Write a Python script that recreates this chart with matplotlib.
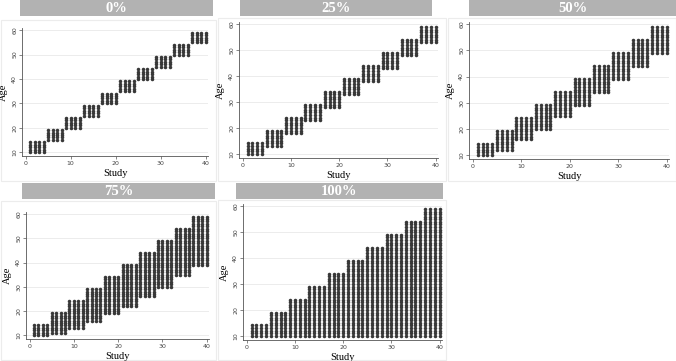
import numpy as np
import matplotlib
matplotlib.use("Agg")
import matplotlib.pyplot as plt
from matplotlib.patches import Rectangle

W, H = 676, 361

# overlap levels and per-group age ranges (10 groups of 4 studies each)
panel_titles = ["0%", "25%", "50%", "75%", "100%"]
studies_per_group = 4
age_upper = [14, 19, 24, 29, 34, 39, 44, 49, 54, 59]
age_lower_0 = [10, 15, 20, 25, 30, 35, 40, 45, 50, 55]
age_lower_25 = [10, 13, 18, 23, 28, 33, 38, 43, 48, 53]
age_lower_50 = [10, 12, 16, 20, 25, 29, 34, 39, 44, 49]
age_lower_75 = [10, 11, 13, 16, 19, 22, 26, 30, 35, 39]
age_lower_100 = [10, 10, 10, 10, 10, 10, 10, 10, 10, 10]
lowers = [age_lower_0, age_lower_25, age_lower_50, age_lower_75, age_lower_100]

x_ticks = [0, 10, 20, 30, 40]
y_ticks = [10, 20, 30, 40, 50, 60]

# layout in pixels: axes box (left, top, right, bottom), title bar (left, top, right, bottom),
# outer panel frame (left, top, right, bottom)
axes_px = [
    (22, 28, 208, 156),
    (239, 22, 438, 158),
    (469, 22, 669, 159),
    (26, 212, 209, 339),
    (243, 204, 442, 340),
]
title_px = [
    (20, 0, 213, 16),
    (240, 0, 432, 16),
    (469, 0, 676, 16),
    (22, 183, 215, 199),
    (236, 183, 443, 199),
]
frame_px = [
    (1, 20, 216, 181),
    (218, 18, 446, 181),
    (448, 18, 676, 181),
    (1, 201, 216, 360),
    (218, 200, 446, 360),
]


def fig_rect(box):
    l, t, r, b = box
    return [l / W, 1 - b / H, (r - l) / W, (b - t) / H]


def make_points(lower):
    xs, ys = [], []
    for g, (lo, hi) in enumerate(zip(lower, age_upper)):
        for s in range(studies_per_group):
            study = g * studies_per_group + s + 1
            ages = np.arange(lo, hi + 1)
            xs.extend([study] * len(ages))
            ys.extend(ages)
    return np.array(xs), np.array(ys)


fig = plt.figure(figsize=(W / 100, H / 100), dpi=100)
fig.patch.set_facecolor("white")

for i, title in enumerate(panel_titles):
    # faint outer frame of each sub graph
    x0, y0, w, h = fig_rect(frame_px[i])
    fig.patches.append(Rectangle((x0, y0), w, h, transform=fig.transFigure,
                                 facecolor="white", edgecolor="#ececec", lw=0.8, zorder=-2))

    # grey title bar
    x0, y0, w, h = fig_rect(title_px[i])
    fig.patches.append(Rectangle((x0, y0), w, h, transform=fig.transFigure,
                                 facecolor="#b2b2b2", edgecolor="none", zorder=-1))
    fig.text(x0 + w / 2, y0 + h / 2 - 0.002, title, ha="center", va="center",
             color="white", fontsize=10.5, fontweight="bold", family="Liberation Serif")

    ax = fig.add_axes(fig_rect(axes_px[i]))
    ax.set_zorder(2)
    ax.set_facecolor("white")
    xs, ys = make_points(lowers[i])
    ax.scatter(xs, ys, s=6.5, color="#383838", linewidths=0, zorder=3)

    ax.set_xlim(-0.8, 40.5)
    ax.set_ylim(8.4, 60.9)
    ax.set_xticks(x_ticks)
    ax.set_yticks(y_ticks)
    ax.grid(axis="y", color="#ececec", lw=0.7)
    ax.set_axisbelow(True)
    for side in ["top", "right"]:
        ax.spines[side].set_visible(False)
    for side in ["left", "bottom"]:
        ax.spines[side].set_color("#555555")
        ax.spines[side].set_linewidth(0.6)
    ax.tick_params(length=2, width=0.5, color="#555555", labelsize=4.5,
                   labelcolor="#444444", pad=1.5)
    for lab in ax.get_yticklabels():
        lab.set_rotation(90)
        lab.set_va("center")
    ax.set_xlabel("Study", family="Liberation Serif", fontsize=7.5, labelpad=2)
    ax.set_ylabel("Age", family="Liberation Serif", fontsize=7.5, labelpad=3)

fig.savefig("out.png", dpi=100, facecolor="white")
